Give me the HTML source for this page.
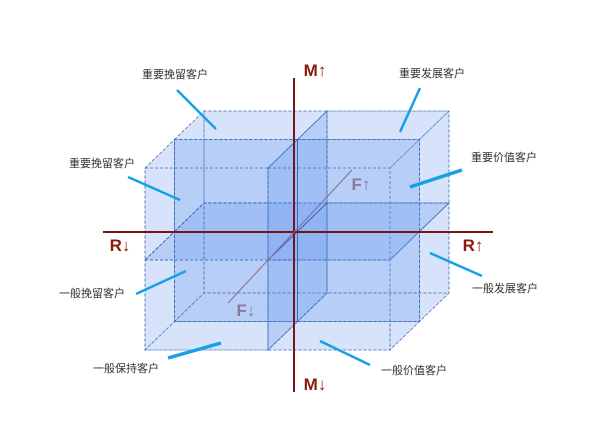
<!DOCTYPE html>
<html><head><meta charset="utf-8"><style>
body{margin:0;background:#fff;width:600px;height:425px;overflow:hidden}
svg text{font-family:"Liberation Sans","Noto Sans CJK SC",sans-serif}
</style></head><body>
<svg id="c" width="600" height="425"></svg>
<script>
const xCuts=[145,268,390];      // front face x splits
const yCuts=[168,260,350];      // front face y splits
const depthCuts=[0,0.5,1];      // depth fractions
const depthDX=59, depthDY=-57;
const labels=["重要挽留客户","重要发展客户","重要挽留客户","重要价值客户","一般挽留客户","一般发展客户","一般保持客户","一般价值客户"];
const labelPos=[[175,78],[432,77],[102,167],[504,161],[92,297],[505,292],[126,372],[414,374]];
const leaders=[[177,90,216,129,2.5],[420,88,400,132,2.5],[128,177,180,200,2.5],[462,170,410,187,3.5],[136,294,186,271,2.5],[482,276,430,253,2.5],[168,358,221,343,3.5],[370,365,320,341,2.5]];
const svg=document.getElementById('c');
const NS='http://www.w3.org/2000/svg';
function el(t,a){const e=document.createElementNS(NS,t);for(const k in a)e.setAttribute(k,a[k]);svg.appendChild(e);return e;}
function P(x,y,d){return [x+d*depthDX,y+d*depthDY];}
function poly(pts){return pts.map(p=>p.join(',')).join(' ');}
for(let i=0;i<2;i++)for(let j=0;j<2;j++)for(let k=0;k<2;k++){
  const x0=xCuts[i],x1=xCuts[i+1],y0=yCuts[j],y1=yCuts[j+1],d0=depthCuts[k],d1=depthCuts[k+1];
  const faces=[
    [P(x0,y0,d0),P(x1,y0,d0),P(x1,y1,d0),P(x0,y1,d0)],
    [P(x0,y0,d1),P(x1,y0,d1),P(x1,y1,d1),P(x0,y1,d1)],
    [P(x0,y0,d0),P(x1,y0,d0),P(x1,y0,d1),P(x0,y0,d1)],
    [P(x0,y1,d0),P(x1,y1,d0),P(x1,y1,d1),P(x0,y1,d1)],
    [P(x1,y0,d0),P(x1,y0,d1),P(x1,y1,d1),P(x1,y1,d0)],
    [P(x0,y0,d0),P(x0,y0,d1),P(x0,y1,d1),P(x0,y1,d0)]
  ];
  faces.forEach(f=>{
    const p=el('polygon',{points:poly(f),fill:'rgba(100,150,240,0.14)',stroke:'#2f5aa8','stroke-width':0.8,'stroke-dasharray':'3,2','stroke-opacity':0.6});
    
    
  });
}
let a;
a=el('line',{x1:103,y1:232,x2:493,y2:232,stroke:'#7a1414','stroke-width':2});
a=el('line',{x1:294,y1:78,x2:294,y2:392,stroke:'#7a1414','stroke-width':2});
a=el('line',{x1:228,y1:303,x2:352,y2:170,stroke:'#8a6a90','stroke-width':1});
const axT=[["M↑",315,76,"#8b1a0a","m-up-label"],["M↓",315,390,"#8b1a0a","m-down-label"],["R↓",120,251,"#8b1a0a","r-down-label"],["R↑",473,251,"#8b1a0a","r-up-label"],["F↑",361,190,"#8a7a9a","f-up-label"],["F↓",246,316,"#8a7a9a","f-down-label"]];
axT.forEach(t=>{const e=el('text',{x:t[1],y:t[2],'text-anchor':'middle','font-size':17,'font-weight':'bold',fill:t[3]});e.textContent=t[0];});
leaders.forEach(l=>{const e=el('line',{x1:l[0],y1:l[1],x2:l[2],y2:l[3],stroke:'#16a0e6','stroke-width':l[4]});});
labels.forEach((s,i)=>{const e=el('text',{x:labelPos[i][0],y:labelPos[i][1],'text-anchor':'middle','font-size':11,fill:'#333'});e.textContent=s;});
</script>
</body></html>
